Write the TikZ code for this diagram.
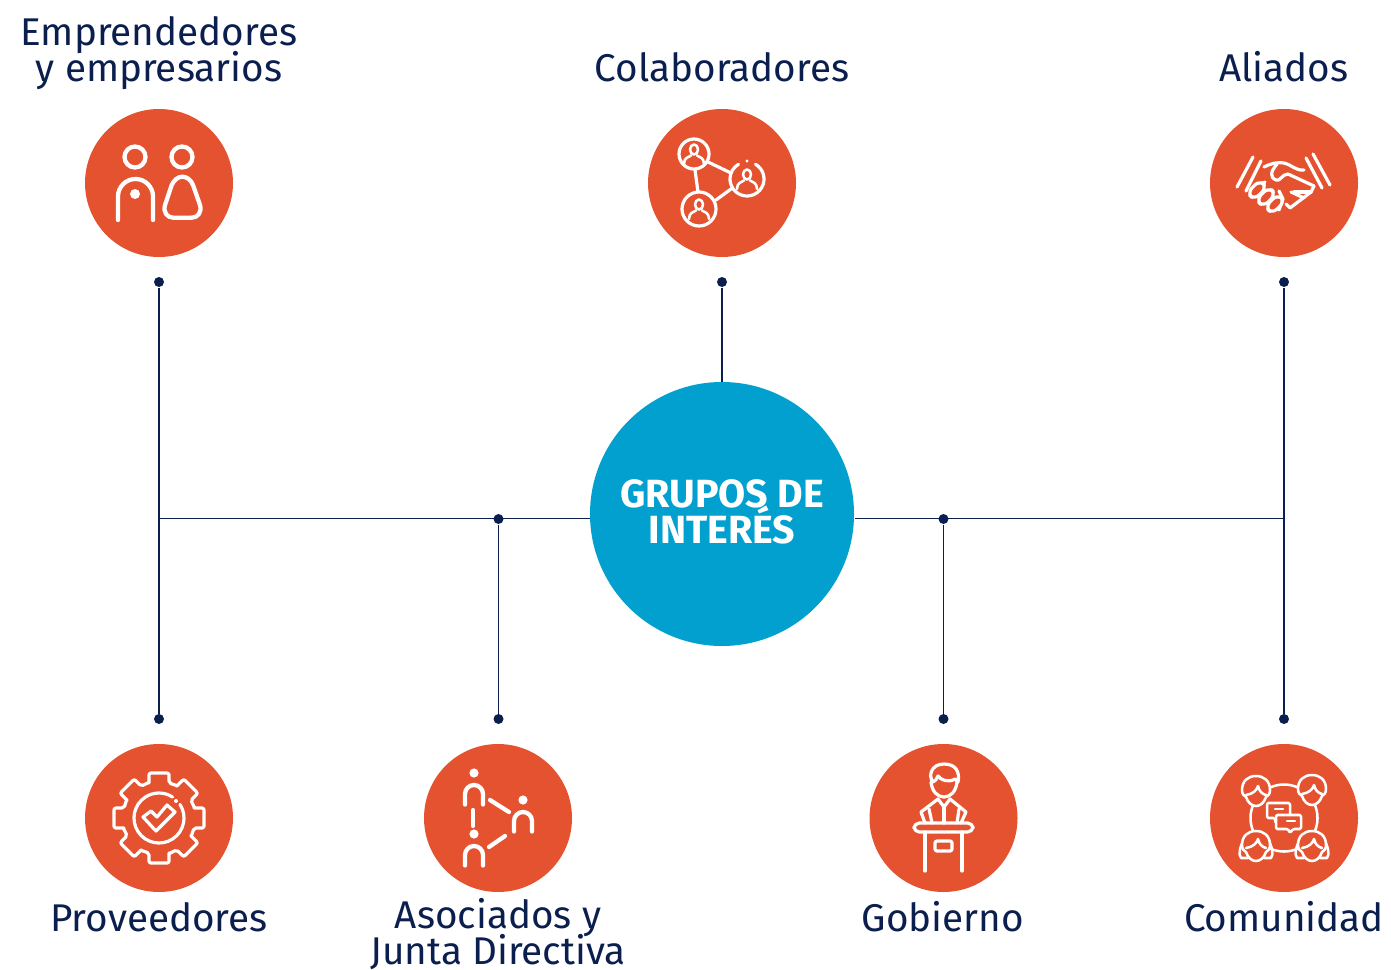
\documentclass[tikz,border=0pt]{standalone}
\usepackage{fontspec}
\setmainfont{Fira Sans}
\normallineskiplimit=-30pt
\lineskiplimit=-30pt
\definecolor{orangeicon}{HTML}{E5522F}
\definecolor{bluehub}{HTML}{02A0CF}
\definecolor{navyline}{HTML}{0B1F4F}
\tikzset{every picture/.style={line width=0.75pt}}
\tikzset{
  badge/.style={circle,fill=orangeicon,inner sep=0pt,minimum size=148*0.75pt},
  hub/.style={circle,fill=bluehub,inner sep=0pt,minimum size=264*0.75pt},
  hubtext/.style={text=white,align=center,inner sep=0pt,font=\fontsize{29.5}{27}\selectfont\bfseries},
  pin/.style={circle,fill=navyline,inner sep=0pt,minimum size=7.5pt},
  link/.style={draw=navyline,line width=1.1pt},
  caption/.style={text=navyline,align=center,inner sep=0pt,font=\fontsize{29}{27}\selectfont},
  iconthick/.style={draw=white,line width=3.2pt,line cap=round,line join=round},
  iconthin/.style={draw=white,line width=2.4pt,line cap=round,line join=round},
  iconfine/.style={draw=white,line width=1.9pt,line cap=round,line join=round},
}
% person inside a ring of the network icon
\newcommand{\ringperson}[2]{%
  \draw[iconfine] (#1,#2-4.5) ellipse (4 and 5);
  \draw[iconfine] (#1-10,#2+10) .. controls (#1-10,#2+4) and (#1-6,#2+3) .. (#1-3,#2+1.5);
  \draw[iconfine] (#1+10,#2+10) .. controls (#1+10,#2+4) and (#1+6,#2+3) .. (#1+3,#2+1.5);
}
% head and arch of the triangle icon
\newcommand{\archperson}[2]{%
  \fill[white] (#1,#2-12) circle [radius=4.6];
  \draw[iconthick] (#1-9,#2+19.5) -- (#1-9,#2+9) arc (180:360:9) -- (#1+9,#2+19.5);
}
% head of the community icon
\newcommand{\roundhead}[2]{%
  \draw[iconfine,fill=orangeicon] (#1-14,#2-1) .. controls (#1-14,#2-10) and (#1-8,#2-15) .. (#1,#2-15) .. controls (#1+8,#2-15) and (#1+14,#2-10) .. (#1+14,#2-1) .. controls (#1+14,#2+3) and (#1+12,#2+5) .. (#1+10,#2+6) .. controls (#1+8,#2+12) and (#1+4,#2+15) .. (#1,#2+15) .. controls (#1-4,#2+15) and (#1-8,#2+12) .. (#1-10,#2+6) .. controls (#1-12,#2+5) and (#1-14,#2+3) .. cycle;
}
\begin{document}
\begin{tikzpicture}[x=0.75pt,y=0.75pt,yscale=-1,xscale=1]
\useasboundingbox (0,0) rectangle (1391,970);

%Shape: Circle, centre
\node[hub] (grupos) at (722,514) {};
\node[hubtext] (gruposText) at (722,511.5) {GRUPOS DE\\INTERÉS};

%Shape: Circle, badges
\node[badge] (emprendedores) at (159,183) {};
\node[badge] (colaboradores) at (722,183) {};
\node[badge] (aliados) at (1284,183) {};
\node[badge] (proveedores) at (159,818) {};
\node[badge] (asociados) at (498,818) {};
\node[badge] (gobierno) at (943.5,818) {};
\node[badge] (comunidad) at (1284,818) {};

%Shape: Circle, pins
\node[pin] (pinEmprendedores) at (159,282) {};
\node[pin] (pinColaboradores) at (722,282) {};
\node[pin] (pinAliados) at (1284,282) {};
\node[pin] (pinProveedores) at (159,719) {};
\node[pin] (pinAsociados) at (498.5,719) {};
\node[pin] (pinGobierno) at (943.5,719) {};
\node[pin] (pinComunidad) at (1284,719) {};
\node[pin] (pinLeft) at (498.5,519) {};
\node[pin] (pinRight) at (943.5,519) {};
\coordinate (cornerLeft) at (159,518.5);
\coordinate (cornerRight) at (1284,518.5);

%Straight Lines
\draw[link] (pinEmprendedores) -- (pinProveedores);
\draw[link] (pinAliados) -- (pinComunidad);
\draw[link] (pinLeft) -- (pinAsociados);
\draw[link] (pinRight) -- (pinGobierno);
\draw[link] (pinColaboradores) -- (grupos.north);
\draw[link] (cornerLeft) -- (cornerLeft -| grupos.west);
\draw[link] (cornerRight) -- (cornerRight -| grupos.east);

% Text Node
\node[caption,anchor=base] (textEmprendedores) at (159,82) {Emprendedores\\y empresarios};
\node[caption,anchor=base] (textColaboradores) at (722,82) {Colaboradores};
\node[caption,anchor=base] (textAliados) at (1284,82) {Aliados};
\node[caption,anchor=base] (textProveedores) at (159,931) {Proveedores};
\node[caption,anchor=base] (textAsociados) at (498,964) {Asociados y\\Junta Directiva};
\node[caption,anchor=base] (textGobierno) at (943,931) {Gobierno};
\node[caption,anchor=base] (textComunidad) at (1284,931) {Comunidad};

%Icon: two people
\begin{scope}[shift={(159,183)}]
\draw[iconthick] (-24,-26) circle [radius=10.5];
\draw[iconthick] (23,-26) circle [radius=10.5];
\draw[iconthick] (-41,37) -- (-41,13.5) arc (180:360:17.5) -- (-6,37);
\fill[white] (-24,11) circle [radius=5];
\draw[iconthick] (12.7,2) .. controls (15,-3) and (19,-6.3) .. (23.3,-6.3) .. controls (28,-6.3) and (32,-3) .. (34,2) -- (41,22) .. controls (43,29) and (39,34.7) .. (32.7,34.7) -- (14.3,34.7) .. controls (8,34.7) and (4,29) .. (6,22) -- cycle;
\end{scope}

%Icon: network
\begin{scope}[shift={(722,183)}]
\draw[iconthin] (-28,-29) circle [radius=15];
\draw[iconthin] (-23,26) circle [radius=17];
\draw[iconthin] (25,-4) ++(-60:17) arc (-60:240:17);
\fill[white] (25,-22) circle [radius=1.6];
\draw[iconthin] (-14,-21) -- (9,-10);
\draw[iconthin] (-27,-13) -- (-24,9);
\draw[iconthin] (-6,17) -- (9,6);
\ringperson{-28}{-29}
\ringperson{-23}{26}
\ringperson{25}{-4}
\end{scope}

%Icon: handshake
\begin{scope}[shift={(1284,183)}]
\draw[iconthin] (-31,-26) -- (-47,4);
\draw[iconthin] (-23,-22) -- (-38,8);
\draw[iconthin] (29,-29) -- (46,2);
\draw[iconthin] (22,-25) -- (38,5);
\draw[iconthin] (-20,-16) .. controls (-12,-20) and (-6,-21) .. (0,-20) .. controls (8,-18) and (12,-12) .. (20,-13);
\draw[iconthin] (-7,-19) .. controls (-13,-12) and (-15,-6) .. (-8,-3) .. controls (-4,-1) and (-2,-9) .. (4,-9) -- (30,3);
\draw[iconthin] (30,3) -- (27,9) -- (6,25) -- (2,21);
\draw[iconthin] (27,9) -- (10,9);
\draw[iconthin] (20,15) -- (7,9);
\draw[iconthin] (-19,-1) -- (-30,6);
\draw[iconthin] (-5,8) -- (-1,16) -- (-5,27);
\foreach \fx/\fy in {-27/7,-18/14,-9/21}
  \draw[iconthin,fill=orangeicon,rounded corners=5,shift={(\fx,\fy)},rotate=-45] (-9,-5) rectangle (9,5);
\end{scope}

%Icon: gear
\begin{scope}[shift={(159,818)}]
\foreach \a in {0,45,...,315}
  \draw[iconthin,rounded corners=1.5,rotate=\a] (-10,-35) -- (-10,-45) -- (10,-45) -- (10,-35) -- (17.68,-32.5);
\draw[iconthin] (0,0) ++(-33:25) arc (-33:303:25);
\fill[white] (17,-17) circle [radius=2];
\draw[iconthin] (-16,-1) -- (-8,-7) -- (-2,-1) -- (8,-13) -- (16,-6) -- (-3,13) -- cycle;
\end{scope}

%Icon: triangle of people
\begin{scope}[shift={(498,818)}]
\archperson{-24}{-33}
\archperson{25}{-6}
\archperson{-24}{28}
\draw[iconthick] (-25,-8) -- (-25,8);
\draw[iconthick] (-8,-18) -- (11,-6);
\draw[iconthick] (-9,29) -- (7,18);
\end{scope}

%Icon: speaker
\begin{scope}[shift={(943,818)}]
\draw[iconthin] (-10,-36) .. controls (-15,-42) and (-12,-54) .. (1,-54) .. controls (13,-54) and (17,-46) .. (15,-36) -- (12,-39) .. controls (5,-35) and (-2,-38) .. (-5,-42) .. controls (-6,-39) and (-8,-37) .. (-10,-36);
\draw[iconthin] (-12,-36) .. controls (-11,-27) and (-6,-21) .. (1,-21) .. controls (8,-21) and (13,-27) .. (14,-36);
\draw[iconthin] (-18,5) -- (-22,-6) -- (-5,-19) -- (1,-11) -- (7,-19) -- (23,-6) -- (18,5);
\draw[iconthin] (1,-11) -- (1,5);
\draw[iconthin] (-14,-9) -- (-11,5);
\draw[iconthin] (16,-9) -- (14,5);
\draw[iconthin,rounded corners=4] (-29,5) rectangle (30,14);
\draw[iconthin] (-18,14) -- (-18,53);
\draw[iconthin] (19,14) -- (19,53);
\draw[iconthin,rounded corners=1.5] (-8,23) rectangle (9,33);
\end{scope}

%Icon: community
\begin{scope}[shift={(1284,818)}]
\draw[iconfine] (0,0) circle [radius=33.5];
\foreach \hx/\hy in {-28/-27,28/-28}{
  \roundhead{\hx}{\hy}
  \draw[iconfine] (\hx-10,\hy+4) .. controls (\hx-3,\hy+3) and (\hx+1,\hy-1) .. (\hx+2,\hy-5) .. controls (\hx+3,\hy) and (\hx+6,\hy+3) .. (\hx+10,\hy+4);
}
\foreach \hx/\hy in {-28/29,28/29}{
  \draw[iconfine] (\hx-12,\hy-8) .. controls (\hx-16,\hy) and (\hx-18,\hy+7) .. (\hx-15,\hy+11) -- (\hx-8,\hy+11);
  \draw[iconfine] (\hx+12,\hy-8) .. controls (\hx+16,\hy) and (\hx+18,\hy+7) .. (\hx+15,\hy+11) -- (\hx+8,\hy+11);
  \roundhead{\hx}{\hy-1}
  \draw[iconfine] (\hx-10,\hy+1) .. controls (\hx-3,\hy) and (\hx+1,\hy-4) .. (\hx+2,\hy-8) .. controls (\hx+3,\hy-3) and (\hx+6,\hy) .. (\hx+10,\hy+1);
}
\draw[iconfine,fill=orangeicon,rounded corners=1] (-17,-15) -- (6,-15) -- (6,0) -- (-6,0) -- (-9,5) -- (-9,0) -- (-17,0) -- cycle;
\draw[iconfine,fill=orangeicon,rounded corners=1] (-8,-3) -- (17,-3) -- (17,11) -- (9,11) -- (6,15) -- (4,11) -- (-8,11) -- cycle;
\draw[iconfine] (-9,-9) -- (-1,-9);
\draw[iconfine] (3,3) -- (11,3);
\end{scope}
\end{tikzpicture}
\end{document}
